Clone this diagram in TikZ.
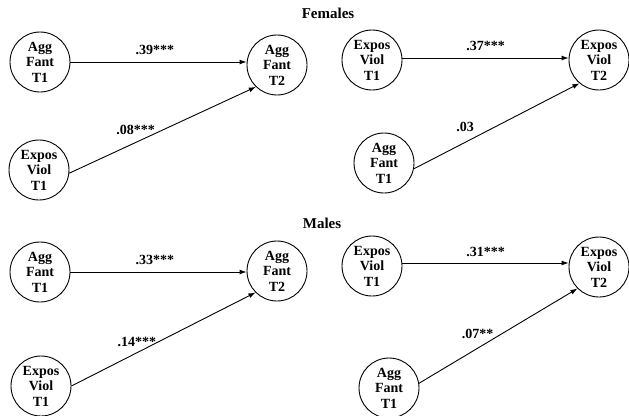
\documentclass[tikz,border=0pt]{standalone}
\usepackage{fontspec}
\setmainfont{Liberation Serif}
\usetikzlibrary{arrows.meta}
\begin{document}
\begin{tikzpicture}[x=1pt,y=-1pt,
  var/.style={circle,draw,line width=0.9pt,minimum size=60pt,inner sep=0pt,align=center,
    font=\fontsize{14}{15.5}\selectfont\bfseries},
  title/.style={font=\fontsize{15}{16}\selectfont\bfseries,inner sep=0pt},
  coef/.style={font=\fontsize{14}{14}\selectfont\bfseries,inner sep=0pt},
  path/.style={line width=0.9pt,-{Latex[length=7pt,width=5pt]}}]
\useasboundingbox (0,0) rectangle (629,415);
% titles
\node[title] (tf) at (328,13) {Females};
\node[title] (tm) at (322,223) {Males};
% Females left
\node[var] (A1) at (40,62) {Agg\\Fant\\T1};
\node[var] (A2) at (277,65) {Agg\\Fant\\T2};
\node[var] (B1) at (39,170) {Expos\\Viol\\T1};
\draw[path] (A1.east) -- (A1.east -| A2.west) node[coef,pos=0.48,above=7pt] {.39***};
\draw[path] (B1.-6) -- (A2.-134) node[coef,pos=0.355,above=7pt] {.08***};
% Females right
\node[var] (C1) at (372,60) {Expos\\Viol\\T1};
\node[var] (C2) at (599,60) {Expos\\Viol\\T2};
\node[var] (D1) at (384,163) {Agg\\Fant\\T1};
\draw[path] ([yshift=2pt]C1.east) -- ([yshift=2pt]C1.east -| C2.west) node[coef,pos=0.5,above=7pt] {.37***};
\draw[path] (D1.-11) -- (C2.-130) node[coef,pos=0.31,above=10pt] {.03};
% Males left
\node[var] (E1) at (40,272) {Agg\\Fant\\T1};
\node[var] (E2) at (277,271) {Agg\\Fant\\T2};
\node[var] (F1) at (41,386) {Expos\\Viol\\T1};
\draw[path] (E1.east) -- (E1.east -| E2.west) node[coef,pos=0.48,above=7pt] {.33***};
\draw[path] (F1.east) -- (E2.-135) node[coef,pos=0.355,above=6pt] {.14***};
% Males right
\node[var] (G1) at (372,266) {Expos\\Viol\\T1};
\node[var] (G2) at (599,267) {Expos\\Viol\\T2};
\node[var] (H1) at (389,388) {Agg\\Fant\\T1};
\draw[path] ([yshift=3pt]G1.east) -- ([yshift=3pt]G1.east -| G2.west) node[coef,pos=0.5,above=6pt] {.31***};
\draw[path] (H1.9) -- (G2.-135) node[coef,pos=0.37,above=9pt] {.07**};
\end{tikzpicture}
\end{document}
